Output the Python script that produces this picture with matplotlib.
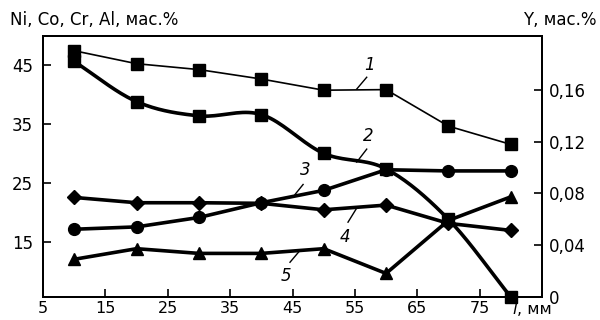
import numpy as np
import matplotlib
matplotlib.use("Agg")
import matplotlib.pyplot as plt
from matplotlib.ticker import FixedLocator, FuncFormatter

plt.rcParams['font.family'] = ['DejaVu Sans']

# distance, mm
l_mm = [10, 20, 30, 40, 50, 60, 70, 80]

# left axis, wt.%
ni = [47.4, 45.2, 44.2, 42.6, 40.7, 40.8, 34.6, 31.5]      # 1
co = [17.1, 17.5, 19.1, 21.6, 23.7, 27.2, 27.0, 27.0]      # 3
cr = [22.5, 21.6, 21.6, 21.5, 20.4, 21.2, 18.1, 16.9]      # 4
al = [12.0, 13.8, 13.0, 13.0, 13.8, 9.6, 18.6, 22.6]       # 5
# right axis, wt.%
y_el = [0.182, 0.151, 0.140, 0.141, 0.111, 0.099, 0.060, 0.0]  # 2

left_ticks = [15, 25, 35, 45]
right_ticks = [0, 0.04, 0.08, 0.12, 0.16]
x_ticks = [5, 15, 25, 35, 45, 55, 65, 75]


def catmull_rom(x, y, n=20):
    # smooth line through the points (drawing only)
    x = np.asarray(x, float)
    y = np.asarray(y, float)
    px = np.concatenate([[2 * x[0] - x[1]], x, [2 * x[-1] - x[-2]]])
    py = np.concatenate([[2 * y[0] - y[1]], y, [2 * y[-1] - y[-2]]])
    xs, ys = [], []
    t = np.linspace(0, 1, n, endpoint=False)
    for i in range(1, len(px) - 2):
        for p, out in ((px, xs), (py, ys)):
            p0, p1, p2, p3 = p[i - 1], p[i], p[i + 1], p[i + 2]
            out.extend(0.5 * ((2 * p1) + (-p0 + p2) * t
                              + (2 * p0 - 5 * p1 + 4 * p2 - p3) * t ** 2
                              + (-p0 + 3 * p1 - 3 * p2 + p3) * t ** 3))
    xs.append(x[-1])
    ys.append(y[-1])
    return np.array(xs), np.array(ys)


fig = plt.figure(figsize=(6, 3.2), dpi=100)
ax = fig.add_axes([43 / 600, 1 - 297 / 320, 499 / 600, 261 / 320])
ax2 = ax.twinx()

ax.set_xlim(5, 85)
ax.set_ylim(5.6, 49.9)
ax2.set_ylim(0, 0.2017)

lw_thick = 2.6
ax.plot(l_mm, ni, color='black', lw=1.2, marker='s', ms=8.5)
ax.plot(l_mm, co, color='black', lw=lw_thick, marker='o', ms=8.5)
ax.plot(l_mm, cr, color='black', lw=lw_thick, marker='D', ms=7)
ax.plot(l_mm, al, color='black', lw=lw_thick, marker='^', ms=8.5)

sx, sy = catmull_rom(l_mm, y_el)
ax2.plot(sx, sy, color='black', lw=lw_thick)
ax2.plot(l_mm, y_el, color='black', lw=0, marker='s', ms=8.5, clip_on=False)

# curve numbers with leader lines
labels = [
    ('1', 57.4, 44.9, (55.3, 40.9), (56.9, 42.9)),
    ('2', 57.1, 33.0, (55.3, 28.5), (56.9, 30.7)),
    ('3', 47.0, 27.1, (45.4, 23.0), (46.7, 24.7)),
    ('4', 53.4, 15.7, (53.9, 18.3), (55.3, 20.7)),
    ('5', 44.0, 9.1, (44.6, 11.5), (46.2, 13.5)),
]
for txt, tx, ty, p0, p1 in labels:
    ax.text(tx, ty, txt, fontsize=12, style='italic', ha='center', va='center')
    ax.plot([p0[0], p1[0]], [p0[1], p1[1]], color='black', lw=1)

ax.xaxis.set_major_locator(FixedLocator(x_ticks))
ax.yaxis.set_major_locator(FixedLocator(left_ticks))
ax2.yaxis.set_major_locator(FixedLocator(right_ticks))
ax2.yaxis.set_major_formatter(
    FuncFormatter(lambda v, p: '0' if v == 0 else f'{v:.2f}'.replace('.', ',')))

ax.tick_params(axis='both', direction='in', length=6, width=1.2,
               labelsize=12, pad=7)
ax.tick_params(axis='x', pad=3, labelsize=11.5)
ax2.tick_params(axis='y', direction='in', length=6, width=1.2,
                labelsize=12, pad=5)
for a in (ax, ax2):
    for s in a.spines.values():
        s.set_linewidth(1.4)

fig.text(10 / 600, 1 - 20 / 320, 'Ni, Co, Cr, Al, мас.%', fontsize=12,
         ha='left', va='center')
fig.text(597 / 600, 1 - 20 / 320, 'Y, мас.%', fontsize=12,
         ha='right', va='center')
fig.text(512 / 600, 1 - 309 / 320, 'l', fontsize=11.5, style='italic',
         ha='left', va='center')
fig.text(517 / 600, 1 - 309 / 320, ', мм', fontsize=11.5,
         ha='left', va='center')

fig.savefig('out.png', dpi=100)
